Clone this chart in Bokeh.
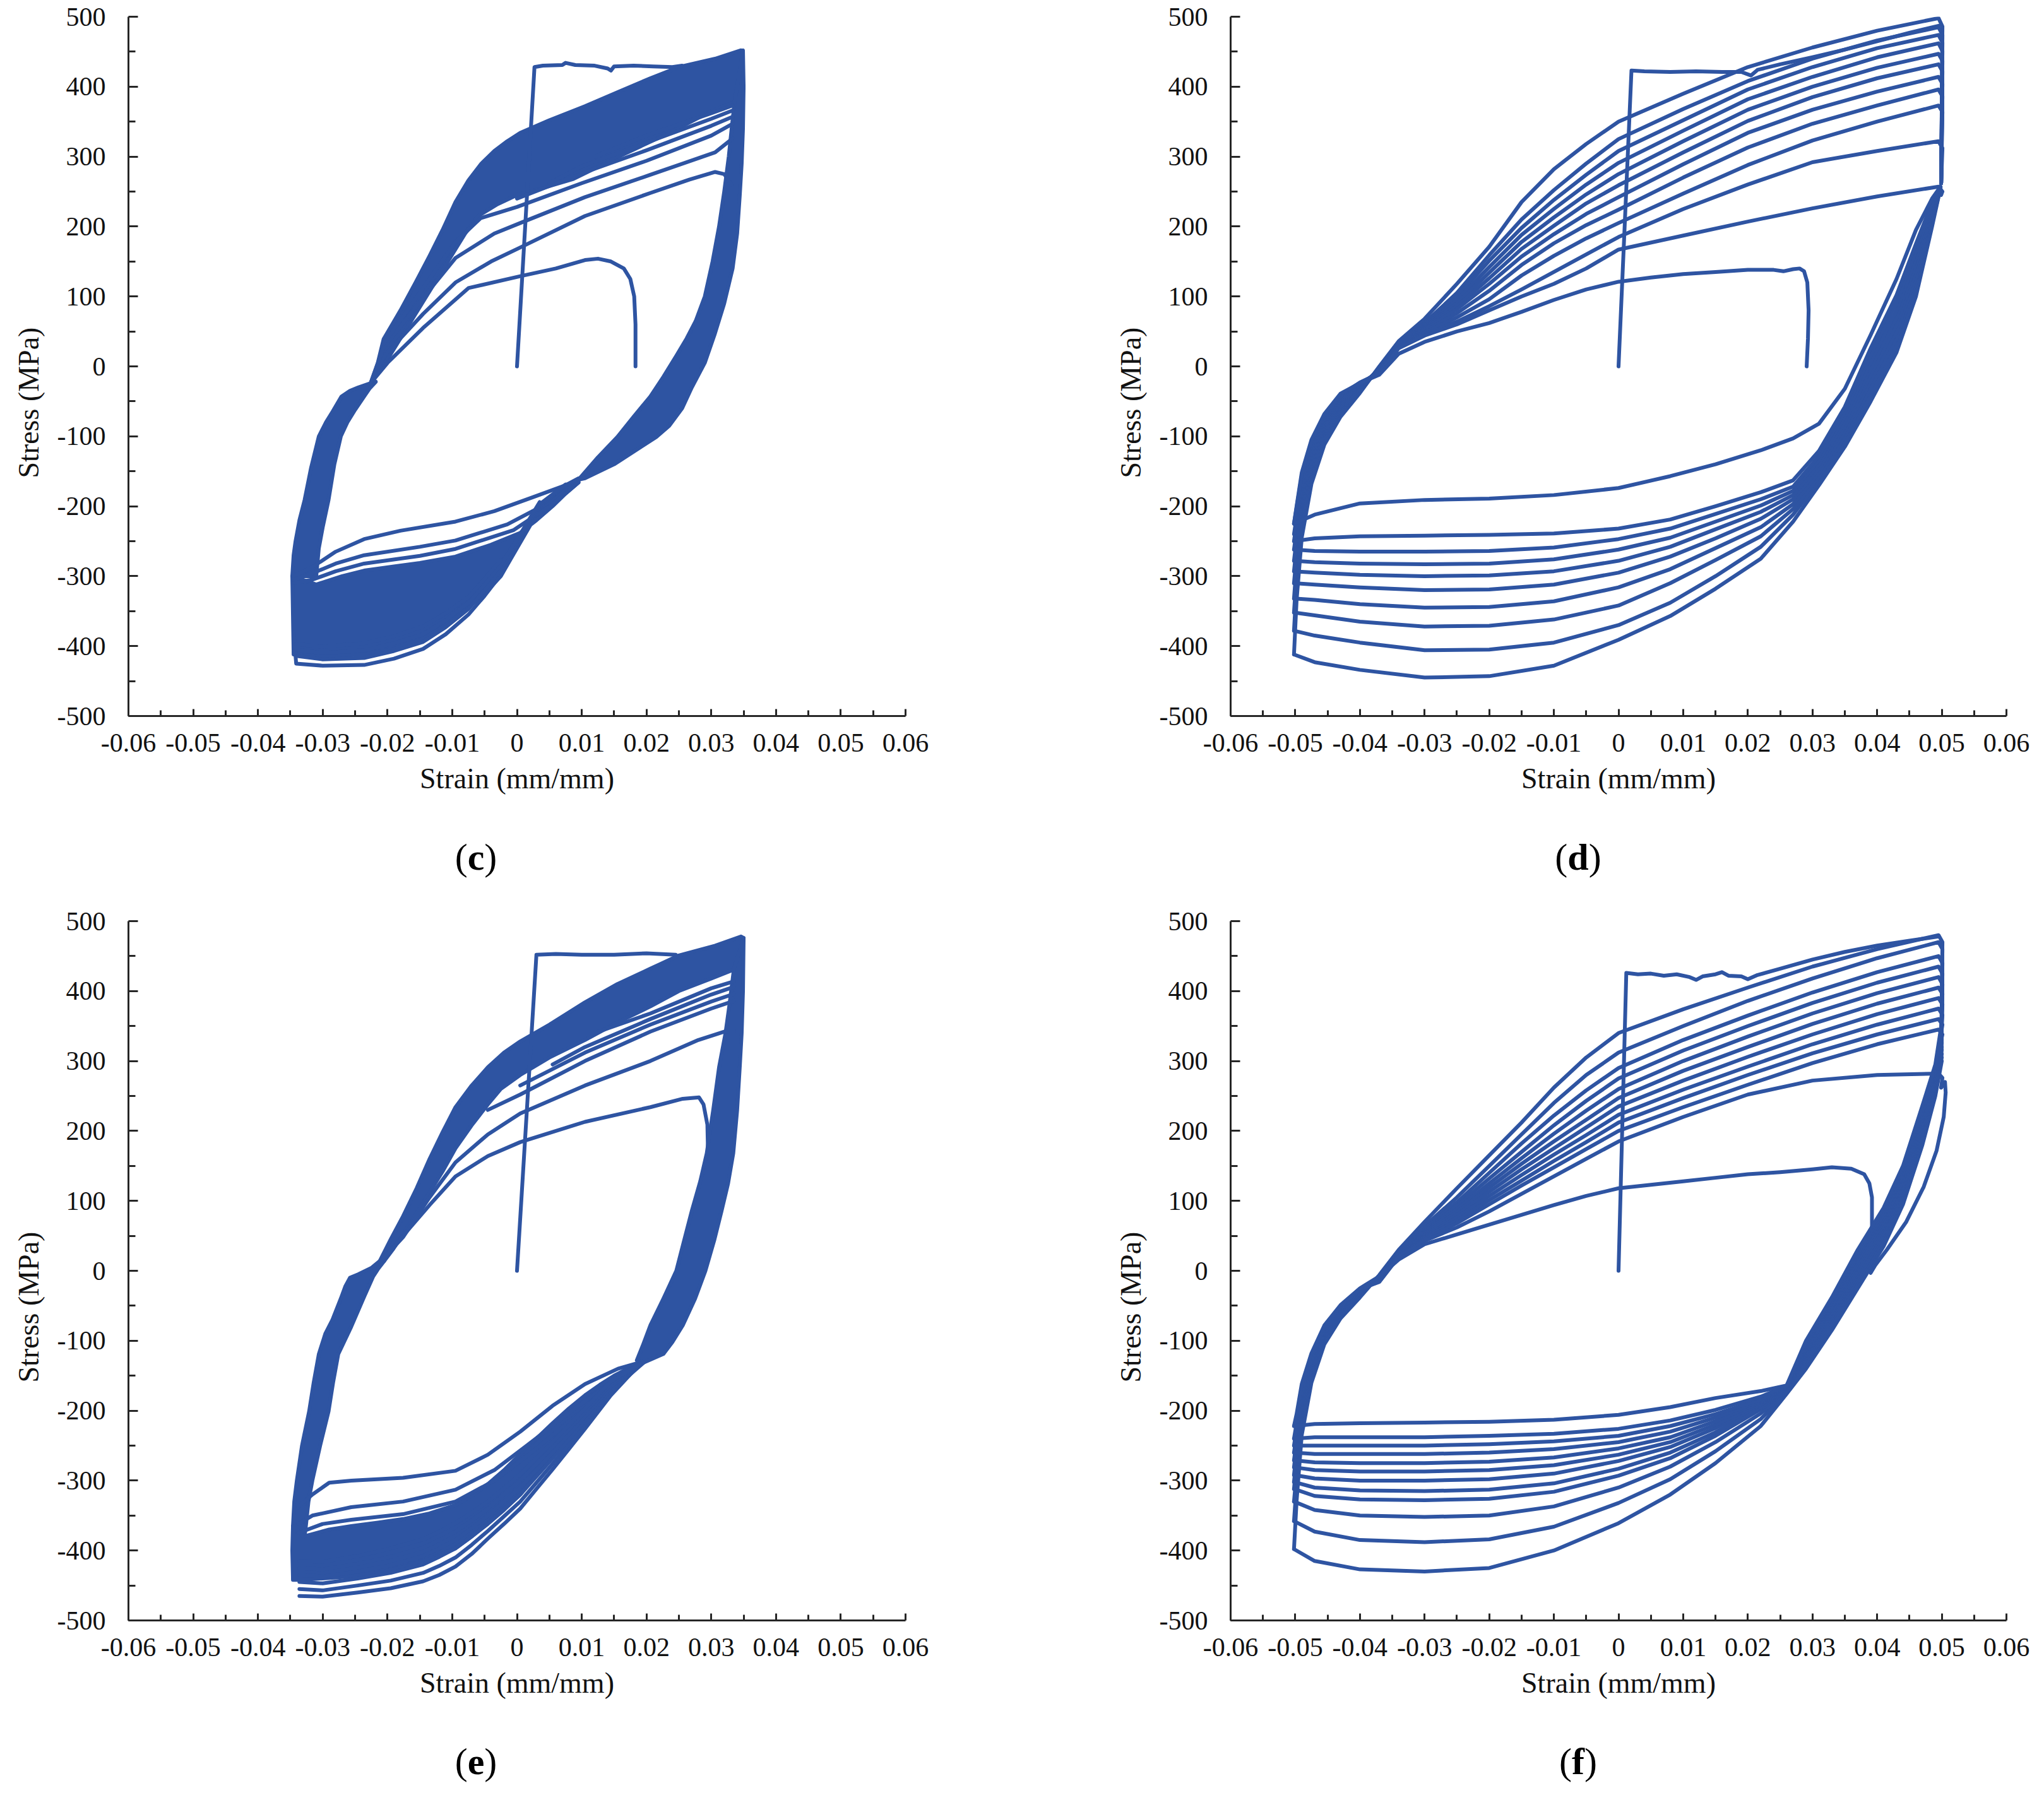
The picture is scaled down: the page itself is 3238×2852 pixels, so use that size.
from bokeh.plotting import figure
from bokeh.models import Range1d, FixedTicker, Title, Div
from bokeh.layouts import column, row
from bokeh.embed import file_html
from bokeh.resources import INLINE

BLUE = "#2E54A2"
AX = "#262626"
LW = 6
FONT = "Liberation Serif"

# ---------------- axis ticks ----------------
x_ticks = [-0.06, -0.05, -0.04, -0.03, -0.02, -0.01, 0, 0.01, 0.02, 0.03, 0.04, 0.05, 0.06]
x_tick_labels = ["-0.06", "-0.05", "-0.04", "-0.03", "-0.02", "-0.01", "0",
                 "0.01", "0.02", "0.03", "0.04", "0.05", "0.06"]
x_minor = [-0.055, -0.045, -0.035, -0.025, -0.015, -0.005, 0.005, 0.015, 0.025, 0.035, 0.045, 0.055]
y_ticks = [-500, -400, -300, -200, -100, 0, 100, 200, 300, 400, 500]
y_tick_labels = ["-500", "-400", "-300", "-200", "-100", "0", "100", "200", "300", "400", "500"]
y_minor = [-450, -350, -250, -150, -50, 50, 150, 250, 350, 450]

# ================= panel (c) =================
c_init_strain = [0, 0.0027, 0.004, 0.007, 0.0075, 0.009, 0.012, 0.014, 0.0145, 0.015, 0.018, 0.021, 0.024, 0.0255]
c_init_stress = [0, 428, 430, 431, 434, 431, 430, 426, 423, 429, 430, 429, 428, 430]

c_left_band_strain = [-0.0347, -0.0345, -0.0342, -0.0336, -0.0328, -0.0318, -0.0306, -0.0295, -0.0285, -0.0271,
                      -0.0258, -0.0245, -0.0226,
                      -0.0218, -0.0228, -0.0236, -0.0250, -0.0262, -0.0272, -0.0282, -0.0291, -0.0300, -0.0306,
                      -0.0310]
c_left_band_stress = [-300, -270, -250, -220, -191, -145, -100, -80, -65, -43,
                      -35, -30, -24,
                      -22, -32, -43, -62, -80, -100, -140, -191, -230, -260,
                      -300]

c_upper_band_strain = [-0.0226, -0.0215, -0.0206, -0.018, -0.0156, -0.0135, -0.0115, -0.0095, -0.0075, -0.0055,
                       -0.0035, -0.0015, 0.0005, 0.005, 0.0105, 0.0155, 0.0206, 0.025, 0.0306, 0.0346, 0.0349,
                       0.0336, 0.0300, 0.0240, 0.0164, 0.0087, 0.004, 0.0, -0.003, -0.006, -0.008, -0.010,
                       -0.012, -0.014, -0.016, -0.018, -0.020, -0.0222]
c_upper_band_stress = [-24, 5, 39, 80, 121, 158, 195, 235, 266, 290,
                       308, 322, 334, 352, 372, 392, 412, 428, 440, 452, 448,
                       378, 365, 336, 303, 268, 255, 245, 232, 215, 190, 160,
                       130, 100, 70, 40, 10, -20]

c_right_band_strain = [0.0349, 0.0350, 0.0349, 0.0347, 0.0344, 0.0340, 0.0333, 0.0320, 0.0305, 0.0290, 0.0270,
                       0.0255, 0.0235, 0.0215, 0.0180, 0.0150, 0.0105,
                       0.0095, 0.0125, 0.0155, 0.0180, 0.0206, 0.0226, 0.0246, 0.0262, 0.0276, 0.0290, 0.0302,
                       0.0312, 0.0320, 0.0327, 0.0332, 0.0336]
c_right_band_stress = [452, 400, 340, 290, 244, 190, 140, 90, 45, 5, -30,
                       -60, -85, -101, -122, -140, -160,
                       -162, -130, -101, -72, -43, -15, 15, 40, 65, 100, 150,
                       200, 250, 300, 345, 378]

c_lower_band_strain = [-0.0347, -0.031, -0.027, -0.0236, -0.019, -0.015, -0.0095, -0.004, 0.0005, 0.003, 0.0055,
                       0.0075, 0.0095,
                       0.0075, 0.0055, 0.0035, 0.002, 0.0005, -0.001, -0.0025, -0.005, -0.0075, -0.011, -0.0145,
                       -0.019, -0.0236, -0.030, -0.0345]
c_lower_band_stress = [-300, -312, -300, -292, -286, -281, -272, -255, -238, -220, -200,
                       -182, -166,
                       -175, -188, -205, -228, -252, -276, -300, -325, -345, -370, -390,
                       -404, -412, -415, -412]

c_last_strain = [-0.0226, -0.020, -0.0145, -0.0075, 0.0005, 0.0060, 0.0105, 0.0125, 0.0145, 0.0165, 0.0175, 0.0181, 0.0183, 0.0183]
c_last_stress = [-24, 5, 55, 112, 129, 140, 152, 154, 150, 140, 125, 100, 60, 0]
c_u280_strain = [-0.0226, -0.0206, -0.0145, -0.0095, -0.004, 0.0005, 0.0105, 0.0206, 0.0266, 0.0306, 0.032, 0.0331]
c_u280_stress = [-24, 14, 75, 120, 150, 170, 215, 248, 267, 278, 275, 260]
c_u326_strain = [-0.0226, -0.0206, -0.0145, -0.0095, -0.0035, 0.0005, 0.0105, 0.0206, 0.0306, 0.0333]
c_u326_stress = [-24, 27, 98, 155, 190, 205, 242, 274, 306, 326]
c_u347_strain = [-0.0206, -0.0145, -0.0095, -0.0056, 0.0, 0.01, 0.02, 0.03, 0.0333]
c_u347_stress = [32, 112, 178, 212, 228, 262, 294, 330, 347]
c_u357_strain = [0.0, 0.01, 0.02, 0.03, 0.0333]
c_u357_stress = [240, 276, 309, 344, 357]
c_u366_strain = [0.005, 0.01, 0.02, 0.03, 0.0333]
c_u366_stress = [262, 286, 320, 354, 366]
c_u373_strain = [0.012, 0.02, 0.03, 0.0333]
c_u373_stress = [300, 330, 362, 373]

c_t1_strain = [-0.0345, -0.0316, -0.028, -0.0236, -0.018, -0.0095, -0.0035, 0.0025, 0.0075, 0.0095]
c_t1_stress = [-300, -287, -265, -247, -235, -222, -207, -187, -170, -162]
c_t2_strain = [-0.0345, -0.0316, -0.028, -0.0236, -0.015, -0.0095, -0.0015, 0.0055, 0.0095]
c_t2_stress = [-305, -296, -282, -270, -258, -249, -226, -192, -164]
c_t3_strain = [-0.0345, -0.0316, -0.028, -0.0236, -0.015, -0.0095, -0.0005, 0.0055, 0.0095]
c_t3_stress = [-310, -305, -293, -282, -271, -261, -234, -197, -166]
c_b1_strain = [-0.0345, -0.0341, -0.030, -0.0236, -0.019, -0.0145, -0.011, -0.0075, -0.005, -0.0025, 0.0005, 0.0035, 0.0075, 0.0095]
c_b1_stress = [-380, -425, -428, -427, -418, -404, -383, -355, -328, -298, -249, -200, -170, -160]
c_b2_strain = [-0.0341, -0.030, -0.0236, -0.019, -0.0145, -0.011, -0.0075, -0.005, -0.0025, 0.0005, 0.0035, 0.0075]
c_b2_stress = [-414, -419, -417, -407, -394, -373, -347, -320, -291, -244, -197, -169]
c_b3_strain = [-0.0341, -0.030, -0.0236, -0.019, -0.0145, -0.011, -0.0075, -0.005, -0.0025, 0.0005, 0.0035]
c_b3_stress = [-405, -410, -406, -396, -383, -363, -338, -312, -284, -240, -194]
c_b4_strain = [-0.0341, -0.030, -0.0236, -0.019, -0.0145, -0.011, -0.0075, -0.005, -0.0025]
c_b4_stress = [-397, -401, -396, -386, -372, -353, -330, -304, -277]

# ================= panel (e) =================
e_init_strain = [0, 0.003, 0.006, 0.010, 0.015, 0.020, 0.0245]
e_init_stress = [0, 452, 453, 452, 452, 454, 452]

e_left_band_strain = [-0.0346, -0.0347, -0.0346, -0.0344, -0.0340, -0.0332, -0.0321, -0.0314, -0.0306, -0.0296,
                      -0.0285, -0.0271, -0.0265, -0.0258, -0.0245, -0.0225, -0.0212,
                      -0.0205, -0.0215, -0.0222, -0.0236, -0.0256, -0.0276, -0.0284, -0.0291, -0.0304, -0.0316,
                      -0.0322, -0.0326, -0.0328]
e_left_band_stress = [-440, -400, -365, -330, -300, -250, -201, -160, -119, -90,
                      -70, -37, -22, -10, -5, 4, 14,
                      14, 2, -8, -37, -80, -119, -160, -201, -250, -300,
                      -330, -365, -380]

e_upper_band_strain = [-0.0212, -0.0195, -0.0176, -0.0155, -0.0135, -0.0115, -0.0095, -0.007, -0.0045, -0.002,
                       0.0005, 0.005, 0.0105, 0.0155, 0.0206, 0.025, 0.0306, 0.0346, 0.0350,
                       0.0338, 0.030, 0.025, 0.0206, 0.0155, 0.0105, 0.005, 0.0005, -0.0025, -0.0045, -0.007,
                       -0.0095, -0.0115, -0.0135, -0.0155, -0.0176, -0.0192, -0.0205]
e_upper_band_stress = [14, 45, 78, 118, 160, 198, 234, 265, 291, 312,
                       328, 352, 384, 410, 432, 451, 465, 478, 476,
                       432, 418, 400, 378, 355, 330, 305, 280, 260, 238, 208,
                       175, 142, 112, 82, 52, 30, 14]

e_right_band_strain = [0.0350, 0.0349, 0.0347, 0.0344, 0.0340, 0.0334, 0.0326, 0.0316, 0.0305, 0.0291, 0.0275,
                       0.0256, 0.0240, 0.0226, 0.0196,
                       0.0185, 0.0195, 0.0206, 0.0226, 0.0246, 0.0258, 0.0270, 0.0283, 0.0293, 0.0303, 0.0312,
                       0.0322, 0.0328, 0.0335]
e_right_band_stress = [476, 400, 340, 291, 230, 168, 125, 86, 45, 0, -40,
                       -78, -102, -119, -131,
                       -128, -105, -78, -40, 0, 43, 86, 128, 168, 230, 291,
                       340, 380, 432]

e_lower_band_strain = [-0.0346, -0.033, -0.029, -0.0256, -0.0215, -0.0176, -0.0135, -0.0095, -0.007, -0.0045,
                       -0.002, 0.0005, 0.003, 0.0055, 0.008, 0.0105, 0.0128, 0.015, 0.0175, 0.0196,
                       0.0175, 0.0155, 0.013, 0.0105, 0.008, 0.0055, 0.003, 0.0005, -0.002, -0.0045, -0.007,
                       -0.0095, -0.0135, -0.0176, -0.0215, -0.0256, -0.030, -0.0336, -0.0346]
e_lower_band_stress = [-365, -380, -370, -365, -360, -355, -347, -335, -322, -305,
                       -285, -262, -240, -218, -197, -178, -163, -150, -138, -131,
                       -148, -165, -188, -212, -238, -265, -292, -320, -342, -362, -380,
                       -397, -412, -424, -432, -437, -440, -442, -442]

e_last_strain = [-0.021, -0.0176, -0.0135, -0.0095, -0.0045, 0.0005, 0.0105, 0.0206, 0.0256, 0.0281, 0.0288, 0.0294, 0.0295]
e_last_stress = [14, 50, 94, 135, 164, 184, 213, 234, 246, 248, 238, 209, 168]
e_u343_strain = [-0.021, -0.0176, -0.0135, -0.0095, -0.0045, 0.0005, 0.0105, 0.0206, 0.028, 0.032, 0.0335]
e_u343_stress = [14, 48, 105, 155, 195, 225, 265, 300, 330, 342, 343]
e_u386_strain = [-0.0045, 0.0005, 0.0105, 0.0206, 0.030, 0.0335]
e_u386_stress = [230, 252, 300, 342, 375, 386]
e_u396_strain = [0.0005, 0.0105, 0.0206, 0.030, 0.0335]
e_u396_stress = [265, 312, 352, 385, 396]
e_u406_strain = [0.0055, 0.0105, 0.0206, 0.030, 0.0335]
e_u406_stress = [295, 320, 360, 395, 406]
e_u414_strain = [0.012, 0.0206, 0.030, 0.0335]
e_u414_stress = [340, 368, 404, 414]

e_t1_strain = [-0.0338, -0.0316, -0.029, -0.0256, -0.0176, -0.0095, -0.0045, 0.0005, 0.0055, 0.0105, 0.0156, 0.019]
e_t1_stress = [-338, -320, -303, -300, -296, -286, -263, -230, -193, -162, -140, -131]
e_t2_strain = [-0.0338, -0.0316, -0.0256, -0.0176, -0.0095, -0.0035, 0.0025, 0.0085, 0.0145, 0.019]
e_t2_stress = [-362, -350, -338, -330, -313, -285, -243, -200, -160, -133]
e_t3_strain = [-0.0338, -0.030, -0.0256, -0.0176, -0.0095, -0.0035, 0.0025, 0.0085, 0.0145, 0.019]
e_t3_stress = [-375, -362, -356, -348, -330, -300, -258, -212, -168, -134]
e_b_strain = [-0.0336, -0.030, -0.0246, -0.0195, -0.0145, -0.012, -0.0095, -0.007, -0.0045, -0.002, 0.0005,
              0.003, 0.0055, 0.008, 0.0105, 0.0145, 0.019]
e_b_stress = [
    [-465, -466, -460, -454, -444, -435, -423, -405, -383, -362, -340, -312, -284, -255, -226, -178, -133],
    [-455, -457, -450, -443, -432, -422, -410, -392, -372, -351, -330, -303, -276, -248, -220, -174, -133],
    [-445, -447, -440, -432, -420, -409, -397, -380, -361, -341, -320, -294, -268, -241, -214, -170, -133],
    [-435, -437, -430, -421, -408, -397, -385, -368, -350, -330, -310, -285, -260, -234, -208, -166, -133],
    [-425, -427, -419, -409, -396, -385, -373, -357, -340, -320, -300, -276, -252, -227, -202, -162, -133],
    [-415, -416, -408, -397, -384, -373, -361, -346, -330, -311, -291, -268, -245, -221, -197, -158, -133],
]

# ================= panel (d) =================
d_init_strain = [0, 0.002, 0.004, 0.008, 0.012, 0.016, 0.019, 0.0205, 0.0215, 0.025, 0.030, 0.035, 0.040, 0.045, 0.0495]
d_init_stress = [0, 423, 422, 421, 422, 421, 421, 416, 424, 432, 442, 453, 465, 477, 487]

d_left_strain = [-0.0502, -0.0498, -0.0490, -0.0475, -0.0455, -0.0430, -0.0400, -0.0370, -0.0340]
d_left_stress = [
    [-412, -335, -245, -168, -112, -72, -38, 0, 36],
    [-378, -312, -230, -160, -107, -68, -36, -1, 35],
    [-352, -296, -220, -154, -102, -64, -34, -2, 34],
    [-332, -283, -212, -148, -98, -61, -32, -3, 33],
    [-310, -269, -202, -142, -94, -58, -30, -4, 32],
    [-293, -257, -194, -136, -90, -55, -28, -5, 31],
    [-278, -246, -186, -130, -86, -52, -27, -6, 30],
    [-262, -234, -178, -124, -82, -49, -26, -7, 29],
    [-250, -224, -171, -119, -78, -46, -25, -8, 28],
    [-240, -215, -165, -114, -74, -43, -24, -9, 27],
    [-225, -202, -156, -109, -71, -41, -23, -10, 26],
    [-225, -200, -152, -105, -68, -39, -24, -12, 18],
]
d_up_strain = [-0.030, -0.025, -0.020, -0.015, -0.010, -0.005, 0.000, 0.010, 0.020, 0.030, 0.040, 0.0495, 0.0501, 0.0499]
d_up_stress = [
    [68, 118, 171, 235, 282, 318, 350, 390, 428, 456, 480, 498, 486, 262],
    [62, 105, 159, 210, 252, 290, 325, 368, 408, 440, 466, 485, 474, 262],
    [60, 100, 151, 198, 238, 274, 308, 352, 396, 428, 455, 474, 463, 262],
    [58, 95, 142, 188, 225, 260, 291, 337, 382, 414, 442, 462, 451, 262],
    [56, 90, 134, 178, 213, 246, 275, 322, 367, 400, 427, 447, 437, 262],
    [54, 86, 126, 168, 201, 233, 259, 306, 351, 385, 412, 432, 422, 262],
    [52, 82, 118, 157, 189, 218, 242, 289, 334, 367, 393, 414, 404, 262],
    [50, 76, 108, 145, 176, 202, 224, 270, 313, 347, 373, 396, 386, 262],
    [48, 70, 96, 130, 158, 183, 205, 247, 288, 323, 350, 373, 364, 262],
    [46, 64, 86, 110, 135, 160, 185, 225, 260, 292, 308, 322, 312, 262],
    [44, 60, 80, 100, 118, 140, 167, 187, 207, 226, 243, 257, 250, 245],
]
d_last_strain = [-0.030, -0.025, -0.020, -0.015, -0.010, -0.005, 0.000, 0.005, 0.010, 0.015, 0.020, 0.024,
                 0.0255, 0.027, 0.028, 0.0287, 0.0292, 0.0294, 0.0293, 0.0291]
d_last_stress = [35, 50, 62, 78, 95, 110, 121, 127, 132, 135, 138, 138, 136, 139, 140, 136, 120, 80, 40, 0]
d_low_strain = [0.0498, 0.0485, 0.046, 0.043, 0.039, 0.035, 0.031, 0.027, 0.022, 0.015, 0.008, 0.0,
                -0.010, -0.020, -0.030, -0.040, -0.047, -0.0502]
d_low_stress = [
    [255, 200, 100, 20, -50, -115, -170, -222, -275, -318, -357, -391, -428, -443, -445, -434, -423, -412],
    [255, 205, 110, 30, -40, -108, -164, -212, -258, -300, -338, -370, -395, -405, -406, -395, -385, -378],
    [255, 210, 120, 40, -30, -100, -158, -204, -243, -277, -310, -342, -362, -371, -372, -365, -356, -352],
    [255, 214, 128, 50, -21, -93, -152, -197, -230, -260, -290, -316, -336, -344, -345, -340, -334, -332],
    [255, 218, 137, 60, -12, -86, -146, -190, -218, -246, -272, -295, -312, -319, -320, -316, -312, -310],
    [256, 222, 146, 70, -3, -79, -140, -184, -208, -233, -258, -278, -293, -299, -300, -298, -295, -293],
    [256, 226, 155, 80, 6, -72, -134, -178, -199, -222, -245, -262, -276, -282, -283, -282, -280, -278],
    [256, 230, 165, 91, 16, -65, -128, -172, -190, -211, -232, -247, -259, -264, -265, -265, -264, -262],
    [257, 234, 175, 102, 26, -58, -121, -163, -180, -200, -219, -232, -239, -241, -242, -243, -246, -250],
    [257, 240, 195, 125, 45, -32, -82, -103, -120, -140, -157, -174, -184, -189, -191, -196, -212, -225],
]

# ================= panel (f) =================
f_init_strain = [0, 0.0012, 0.003, 0.005, 0.007, 0.009, 0.011, 0.012, 0.013, 0.015, 0.016, 0.017, 0.019, 0.020,
                 0.0215, 0.025, 0.030, 0.035, 0.040, 0.045, 0.0495]
f_init_stress = [0, 426, 424, 425, 422, 424, 420, 416, 421, 424, 427, 422, 421, 417,
                 423, 432, 445, 456, 465, 472, 478]

f_left_strain = [-0.0502, -0.0498, -0.0490, -0.0475, -0.0455, -0.0430, -0.0400, -0.0370, -0.0340]
f_left_stress = [
    [-398, -330, -235, -160, -105, -68, -38, -6, 30],
    [-358, -305, -222, -153, -101, -65, -36, -7, 29],
    [-330, -288, -212, -148, -98, -63, -34, -8, 28],
    [-312, -274, -205, -144, -95, -61, -33, -9, 27],
    [-302, -266, -200, -141, -93, -60, -32, -10, 26],
    [-292, -258, -195, -138, -91, -58, -31, -11, 25],
    [-281, -250, -190, -135, -89, -57, -30, -12, 24],
    [-271, -242, -185, -132, -87, -55, -29, -13, 23],
    [-260, -234, -180, -129, -85, -54, -28, -14, 22],
    [-250, -226, -175, -126, -83, -52, -27, -15, 21],
    [-240, -218, -170, -123, -81, -51, -26, -16, 20],
    [-222, -205, -162, -118, -78, -49, -25, -8, 16],
]
f_up_strain = [-0.030, -0.025, -0.020, -0.015, -0.010, -0.005, 0.000, 0.010, 0.020, 0.030, 0.040, 0.0495, 0.0501, 0.0499]
f_up_stress = [
    [70, 118, 165, 212, 262, 305, 340, 374, 405, 435, 460, 480, 470, 300],
    [64, 105, 150, 195, 240, 280, 312, 350, 386, 418, 447, 470, 460, 305],
    [60, 98, 140, 182, 222, 258, 290, 330, 365, 398, 427, 450, 440, 310],
    [57, 93, 132, 170, 208, 243, 275, 315, 350, 383, 412, 435, 425, 316],
    [55, 88, 125, 161, 196, 229, 260, 300, 335, 368, 397, 420, 410, 320],
    [53, 84, 119, 153, 185, 216, 247, 286, 320, 353, 382, 405, 396, 326],
    [51, 80, 113, 145, 175, 205, 235, 272, 306, 338, 367, 390, 381, 330],
    [49, 76, 107, 137, 166, 194, 223, 259, 292, 324, 352, 375, 366, 335],
    [47, 72, 101, 129, 157, 184, 212, 247, 280, 311, 338, 360, 352, 340],
    [45, 68, 95, 122, 148, 174, 200, 234, 266, 297, 324, 345, 338, 330],
    [43, 62, 85, 110, 135, 160, 185, 220, 252, 272, 280, 282, 276, 262],
]
f_tail_strain = [0.0499, 0.0505, 0.0506, 0.0503, 0.0492, 0.0472, 0.0445, 0.0415, 0.0397, 0.0390]
f_tail_stress = [262, 270, 255, 220, 172, 120, 70, 30, 8, -3]
f_last_strain = [-0.030, -0.025, -0.020, -0.015, -0.010, -0.005, 0.000, 0.005, 0.010, 0.015, 0.020, 0.025, 0.030,
                 0.033, 0.036, 0.038, 0.0388, 0.0392, 0.0392, 0.0390, 0.0388]
f_last_stress = [38, 52, 66, 80, 94, 107, 118, 123, 128, 133, 138, 141, 145, 148, 146, 138, 125, 105, 60, 20, 0]
f_low_strain = [0.0500, 0.0490, 0.0470, 0.0440, 0.0410, 0.0370, 0.0330, 0.0290, 0.0260, 0.022, 0.015, 0.008, 0.0,
                -0.010, -0.020, -0.030, -0.040, -0.047, -0.0502]
f_low_stress = [
    [300, 250, 180, 95, 35, -25, -85, -140, -176, -222, -275, -320, -361, -400, -425, -430, -427, -415, -398],
    [305, 255, 186, 100, 41, -20, -80, -135, -174, -212, -258, -298, -332, -366, -384, -388, -385, -373, -358],
    [310, 259, 190, 106, 45, -15, -76, -131, -173, -204, -245, -280, -310, -337, -350, -352, -350, -342, -330],
    [316, 262, 196, 110, 51, -10, -70, -126, -171, -198, -236, -268, -293, -316, -326, -328, -327, -322, -312],
    [320, 267, 200, 116, 55, -4, -66, -122, -170, -195, -231, -260, -283, -304, -313, -315, -314, -310, -302],
    [326, 270, 206, 120, 61, 0, -61, -119, -169, -192, -225, -252, -272, -290, -298, -300, -300, -297, -292],
    [330, 275, 210, 126, 65, 6, -58, -116, -168, -190, -220, -245, -263, -278, -285, -287, -287, -285, -281],
    [335, 278, 216, 130, 70, 10, -53, -113, -167, -188, -215, -238, -254, -267, -273, -275, -275, -274, -271],
    [341, 283, 220, 136, 76, 15, -50, -110, -166, -186, -210, -230, -245, -255, -260, -262, -262, -262, -260],
    [345, 286, 226, 140, 80, 21, -45, -107, -165, -184, -205, -222, -236, -244, -248, -250, -250, -250, -250],
    [350, 291, 230, 146, 85, 25, -42, -104, -165, -180, -199, -214, -226, -233, -236, -238, -238, -238, -240],
    [355, 295, 236, 150, 90, 30, -38, -100, -164, -172, -182, -195, -206, -213, -216, -217, -218, -219, -222],
]


# ---------------- helpers ----------------
def make_fig(width, right_border):
    p = figure(width=width, height=1314, x_range=Range1d(-0.06, 0.06), y_range=Range1d(-500, 500),
               output_backend="svg", toolbar_location=None,
               min_border_left=194, min_border_right=right_border, min_border_top=26, min_border_bottom=180)
    p.outline_line_color = None
    p.grid.grid_line_color = None
    p.background_fill_color = "white"
    p.border_fill_color = "white"

    xa = p.xaxis[0]
    xa.ticker = FixedTicker(ticks=x_ticks, minor_ticks=x_minor)
    xa.major_label_overrides = dict(zip(x_ticks, x_tick_labels))
    xa.axis_label = "Strain (mm/mm)"
    ya = p.yaxis[0]
    ya.ticker = FixedTicker(ticks=y_ticks, minor_ticks=y_minor)
    ya.major_label_overrides = dict(zip(y_ticks, y_tick_labels))

    for ax in (xa, ya):
        ax.axis_line_color = AX
        ax.axis_line_width = 3
        ax.major_tick_line_color = AX
        ax.major_tick_line_width = 3
        ax.minor_tick_line_color = AX
        ax.minor_tick_line_width = 3
        ax.major_tick_out = 0
        ax.minor_tick_out = 0
        ax.major_label_text_font = FONT
        ax.major_label_text_font_size = "42px"
        ax.major_label_text_color = "#111111"
    xa.major_tick_in = 11
    xa.minor_tick_in = 9
    ya.major_tick_in = 15
    ya.minor_tick_in = 11
    xa.major_label_standoff = 28
    ya.major_label_standoff = 36
    xa.axis_label_text_font = FONT
    xa.axis_label_text_font_size = "46px"
    xa.axis_label_text_font_style = "normal"
    xa.axis_label_text_color = "#111111"
    xa.axis_label_standoff = 14

    t = Title(text="Stress (MPa)", align="left", offset=377, standoff=34,
              text_font=FONT, text_font_size="46px", text_font_style="normal", text_color="#111111")
    p.add_layout(t, "left")
    return p


def draw(p, xs, ys):
    p.line(xs, ys, line_color=BLUE, line_width=LW, line_join="round", line_cap="round")


def band(p, xs, ys):
    p.patch(xs, ys, fill_color=BLUE, line_color=BLUE, line_width=LW, line_join="round")


# ---------------- panel c ----------------
pc = make_fig(1746, 312)
for bx, by in [(c_left_band_strain, c_left_band_stress), (c_upper_band_strain, c_upper_band_stress),
               (c_right_band_strain, c_right_band_stress), (c_lower_band_strain, c_lower_band_stress)]:
    band(pc, bx, by)
for lx, ly in [(c_init_strain, c_init_stress), (c_last_strain, c_last_stress), (c_u280_strain, c_u280_stress),
               (c_u326_strain, c_u326_stress), (c_u347_strain, c_u347_stress), (c_u357_strain, c_u357_stress),
               (c_u366_strain, c_u366_stress), (c_u373_strain, c_u373_stress),
               (c_t1_strain, c_t1_stress), (c_t2_strain, c_t2_stress), (c_t3_strain, c_t3_stress),
               (c_b1_strain, c_b1_stress), (c_b2_strain, c_b2_stress), (c_b3_strain, c_b3_stress),
               (c_b4_strain, c_b4_stress)]:
    draw(pc, lx, ly)

# ---------------- panel e ----------------
pe = make_fig(1746, 312)
for bx, by in [(e_left_band_strain, e_left_band_stress), (e_upper_band_strain, e_upper_band_stress),
               (e_right_band_strain, e_right_band_stress), (e_lower_band_strain, e_lower_band_stress)]:
    band(pe, bx, by)
for lx, ly in [(e_init_strain, e_init_stress), (e_last_strain, e_last_stress), (e_u343_strain, e_u343_stress),
               (e_u386_strain, e_u386_stress), (e_u396_strain, e_u396_stress), (e_u406_strain, e_u406_stress),
               (e_u414_strain, e_u414_stress), (e_t1_strain, e_t1_stress), (e_t2_strain, e_t2_stress),
               (e_t3_strain, e_t3_stress)]:
    draw(pe, lx, ly)
for row_ in e_b_stress:
    draw(pe, e_b_strain, row_)

# ---------------- panel d ----------------
pd_ = make_fig(1476, 44)
draw(pd_, d_init_strain, d_init_stress)
for i, up in enumerate(d_up_stress):
    draw(pd_, d_left_strain + d_up_strain, d_left_stress[i] + up)
draw(pd_, d_left_strain + d_last_strain, d_left_stress[11] + d_last_stress)
for low in d_low_stress:
    draw(pd_, d_low_strain, low)

# ---------------- panel f ----------------
pf = make_fig(1476, 44)
draw(pf, f_init_strain, f_init_stress)
for i, up in enumerate(f_up_stress):
    draw(pf, f_left_strain + f_up_strain, f_left_stress[i] + up)
draw(pf, f_tail_strain, f_tail_stress)
draw(pf, f_left_strain + f_last_strain, f_left_stress[11] + f_last_stress)
for low in f_low_stress:
    draw(pf, f_low_strain, low)


# ---------------- captions ----------------
CAP_STYLE = ("font-family:'Liberation Serif',serif;font-size:60px;color:#000;width:1508px;"
             "height:88px;line-height:88px;text-align:center;")


def caption(letter, width, height):
    return Div(text=f'<div style="{CAP_STYLE}">(<b>{letter}</b>)</div>', width=width, height=height, margin=0)


layout = column(
    row(pc, pd_),
    row(caption("c", 1746, 119), caption("d", 1476, 119)),
    row(pe, pf),
    row(caption("e", 1746, 88), caption("f", 1476, 88)),
)

open("out.html", "w").write(file_html(layout, INLINE))
